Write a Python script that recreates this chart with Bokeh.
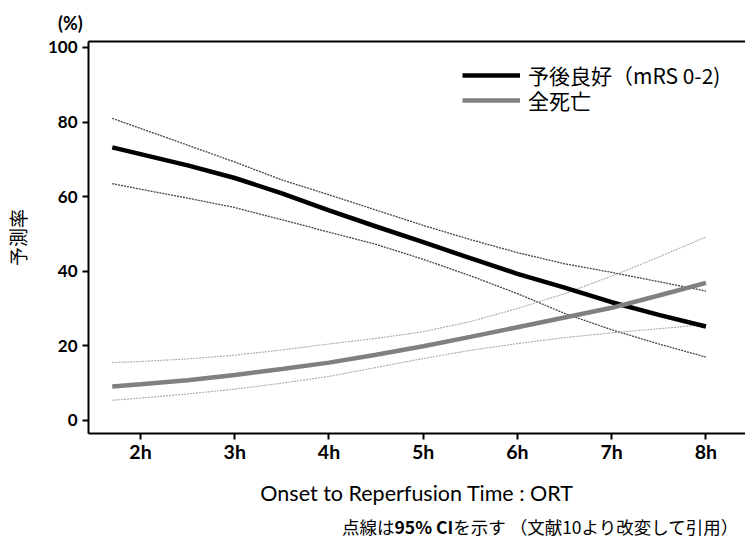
from bokeh.plotting import figure
from bokeh.models import Range1d, LinearAxis, FixedTicker, Legend, LegendItem, Div
from bokeh.layouts import column
from bokeh.embed import file_html
from bokeh.resources import INLINE

# ---- data ----
hours = [1.7, 2.0, 2.5, 3.0, 3.5, 4.0, 4.5, 5.0, 5.5, 6.0, 6.5, 7.0, 7.5, 8.0]
good = [73.2, 71.4, 68.4, 65.0, 60.9, 56.3, 52.0, 47.8, 43.5, 39.3, 35.6, 31.7, 28.3, 25.2]
good_hi = [81.0, 78.3, 73.8, 69.3, 64.5, 60.5, 56.4, 52.3, 48.5, 45.0, 42.0, 39.7, 37.2, 34.7]
good_lo = [63.5, 62.0, 59.6, 57.1, 53.8, 50.5, 47.2, 43.2, 38.8, 34.0, 28.7, 24.3, 20.5, 17.0]
mort = [9.1, 9.7, 10.8, 12.2, 13.8, 15.5, 17.6, 19.9, 22.4, 25.0, 27.6, 30.2, 33.5, 36.9]
mort_hi = [15.5, 15.8, 16.5, 17.5, 18.9, 20.5, 22.0, 23.8, 26.5, 30.0, 34.0, 38.7, 43.8, 49.2]
mort_lo = [5.4, 6.0, 7.1, 8.4, 10.0, 11.8, 14.2, 16.6, 18.8, 20.6, 22.2, 23.5, 24.6, 25.7]

x_ticks = [2, 3, 4, 5, 6, 7, 8]
x_tick_labels = ["2h", "3h", "4h", "5h", "6h", "7h", "8h"]
y_ticks = [0, 20, 40, 60, 80, 100]

series_names = ["予後良好（mRS 0-2)", "全死亡"]
x_title = "Onset to Reperfusion Time : ORT"
y_title = "予測率"
unit_text = "(%)"
note_parts = ["点線は", "95% CI", "を示す （文献10より改変して引用）"]

LATIN = "Lato"
CJK = "Noto Sans CJK JP"

X0, X1 = 1.448, 8.42
Y0, Y1 = -3.5, 101.6

W = 745
TOP_H = 34
H = 478
NOTE_H = 24

# unit mark strip above the chart
unit_div = Div(text=unit_text, width=W, height=TOP_H, margin=(0, 0, 0, 0),
               styles={"font-family": f"'{LATIN}', sans-serif", "font-size": "18px",
                       "font-weight": "bold", "line-height": "22px",
                       "padding-left": "58px", "padding-top": "12px",
                       "box-sizing": "border-box", "white-space": "nowrap", "color": "black"})

p = figure(width=W, height=H, output_backend="svg", toolbar_location=None,
           x_range=Range1d(X0, X1), y_range=Range1d(Y0, Y1),
           min_border_left=88, min_border_right=0, min_border_top=7, min_border_bottom=79,
           x_axis_type=None, y_axis_type=None)
p.outline_line_color = None
p.xgrid.visible = False
p.ygrid.visible = False
p.background_fill_color = "white"
p.border_fill_color = "white"

# axes
xa = LinearAxis(ticker=FixedTicker(ticks=x_ticks),
                major_label_overrides={t: l for t, l in zip(x_ticks, x_tick_labels)})
xa.axis_line_width = 2
xa.axis_line_color = "black"
xa.major_tick_line_width = 2
xa.major_tick_out = 6
xa.major_tick_in = 0
xa.minor_tick_line_color = None
xa.major_label_text_font = LATIN
xa.major_label_text_font_style = "bold"
xa.major_label_text_font_size = "19.5px"
xa.major_label_text_color = "black"
xa.major_label_standoff = 0
xa.axis_label = x_title
xa.axis_label_text_font = LATIN
xa.axis_label_text_font_style = "normal"
xa.axis_label_text_font_size = "21.5px"
xa.axis_label_text_color = "black"
xa.axis_label_standoff = 14
p.add_layout(xa, "below")

ya = LinearAxis(ticker=FixedTicker(ticks=y_ticks))
ya.axis_line_width = 2
ya.axis_line_color = "black"
ya.major_tick_line_width = 2
ya.major_tick_out = 6
ya.major_tick_in = 0
ya.minor_tick_line_color = None
ya.major_label_text_font = LATIN
ya.major_label_text_font_style = "bold"
ya.major_label_text_font_size = "17px"
ya.major_label_text_color = "black"
ya.major_label_standoff = 5
ya.axis_label = y_title
ya.axis_label_text_font = CJK
ya.axis_label_text_font_style = "normal"
ya.axis_label_text_font_size = "19px"
ya.axis_label_text_color = "black"
ya.axis_label_standoff = 14
p.add_layout(ya, "left")

top = LinearAxis(ticker=FixedTicker(ticks=[]))
top.axis_line_width = 2
top.axis_line_color = "black"
top.major_tick_line_color = None
top.minor_tick_line_color = None
top.major_label_text_font_size = "0px"
top.major_label_standoff = 0
p.add_layout(top, "above")

# CI lines
p.line(hours, good_hi, line_color="#444444", line_width=1.3, line_dash="2 1")
p.line(hours, good_lo, line_color="#444444", line_width=1.3, line_dash="2 1")
p.line(hours, mort_hi, line_color="#aaaaaa", line_width=1.1, line_dash="2 1")
p.line(hours, mort_lo, line_color="#aaaaaa", line_width=1.1, line_dash="2 1")

# main lines
r_good = p.line(hours, good, line_color="black", line_width=4.5)
r_mort = p.line(hours, mort, line_color="#808080", line_width=4.5)


def make_legend(label, renderer, loc):
    return Legend(items=[LegendItem(label=label, renderers=[renderer])],
                  location=loc, orientation="vertical",
                  glyph_width=58, glyph_height=22, label_height=22, label_standoff=8, spacing=0,
                  padding=0, margin=0, border_line_color=None, background_fill_alpha=0,
                  label_text_font=CJK, label_text_font_size="21px", label_text_color="black")


p.add_layout(make_legend(series_names[0], r_good, (374, 343)), "center")
p.add_layout(make_legend(series_names[1], r_mort, (374, 318)), "center")

# footnote line below the chart
note_html = f"{note_parts[0]}<b>{note_parts[1]}</b>{note_parts[2]}"
note = Div(text=note_html, width=W, height=NOTE_H, margin=(0, 0, 0, 0),
           styles={"font-family": f"'{CJK}', sans-serif", "font-size": "17.5px",
                   "line-height": f"{NOTE_H}px", "padding-left": "342px",
                   "white-space": "nowrap", "color": "black",
                   "position": "relative", "top": "3px", "box-sizing": "border-box"})

layout = column(unit_div, p, note, spacing=0)
open("out.html", "w").write(file_html(layout, INLINE))
